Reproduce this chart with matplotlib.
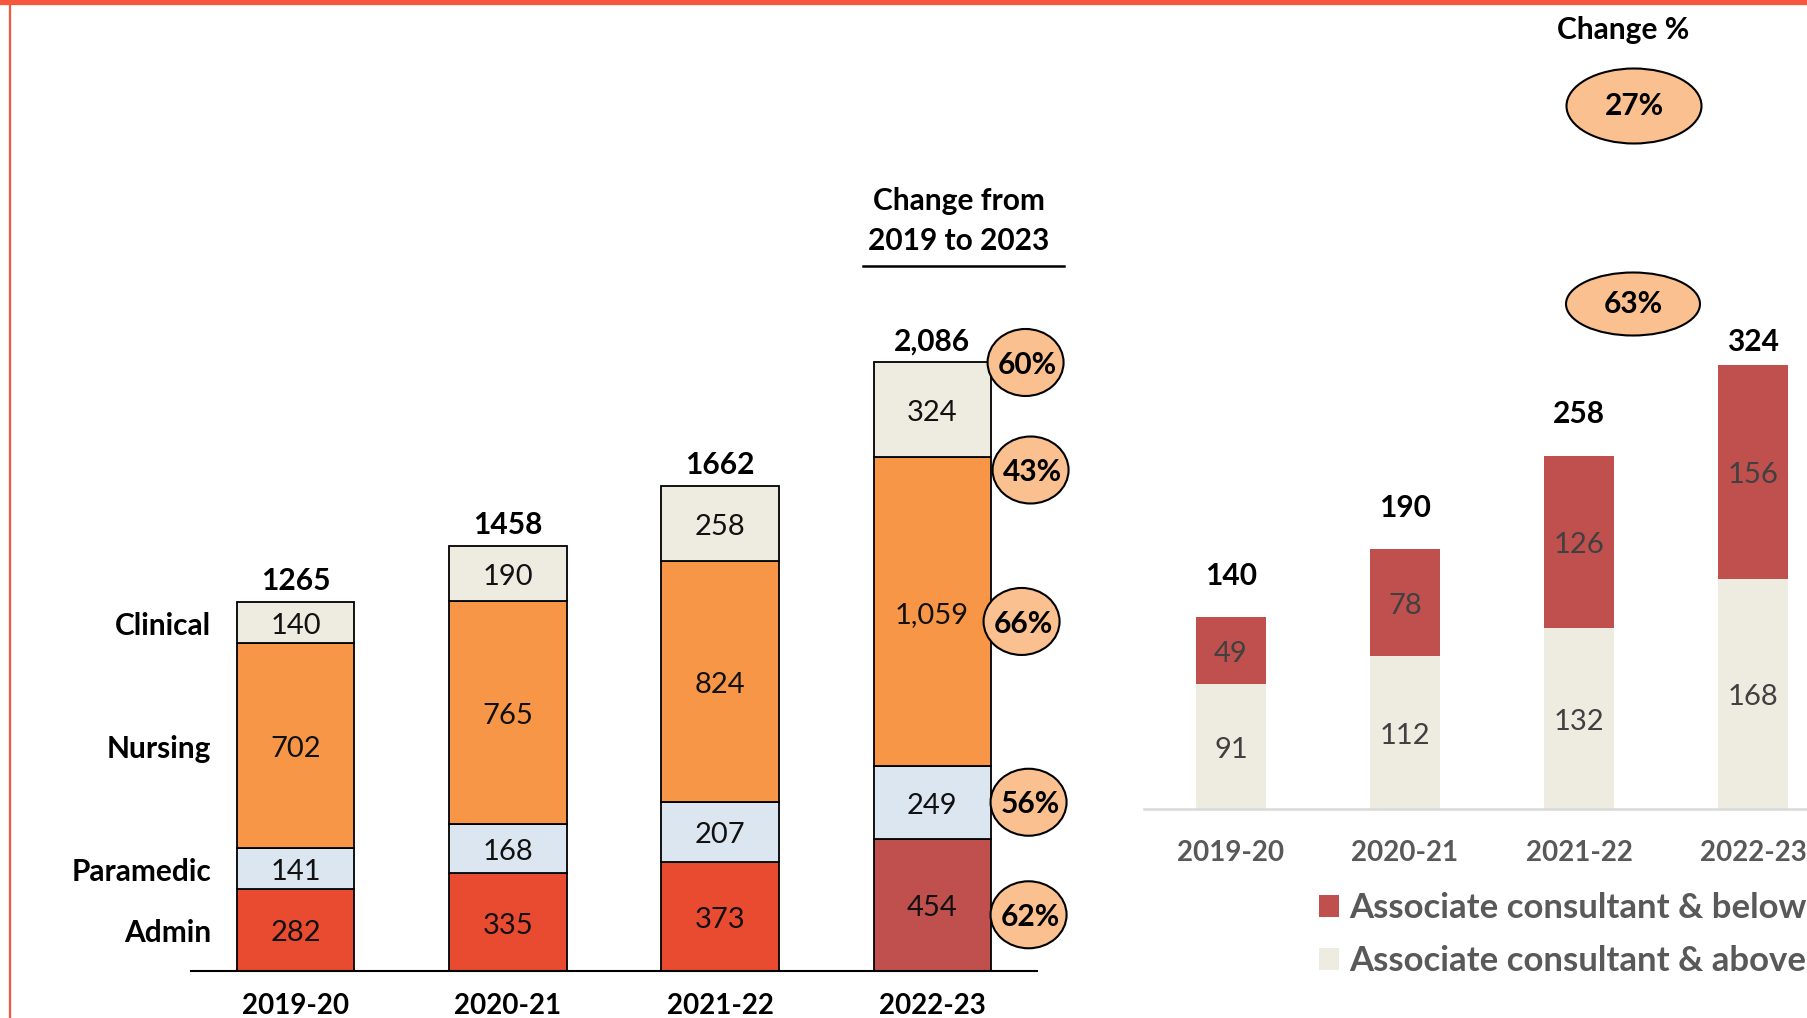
import matplotlib.pyplot as plt
from matplotlib.patches import Ellipse, Patch
from matplotlib.lines import Line2D

plt.rcParams['font.family'] = ['Lato', 'DejaVu Sans']

# ---- data ----
years = ['2019-20', '2020-21', '2021-22', '2022-23']
categories = ['Admin', 'Paramedic', 'Nursing', 'Clinical']
admin = [282, 335, 373, 454]
paramedic = [141, 168, 207, 249]
nursing = [702, 765, 824, 1059]
clinical = [140, 190, 258, 324]
total_labels = ['1265', '1458', '1662', '2,086']
change_pct = ['60%', '43%', '66%', '56%', '62%']

consultant_below = [49, 78, 126, 156]
consultant_above = [91, 112, 132, 168]
consultant_pct = ['27%', '63%']
legend_labels = ['Associate consultant & below', 'Associate consultant & above']

# ---- colours ----
C_ADMIN = '#E94B30'
C_ADMIN_LAST = '#C0504D'
C_PARA = '#DCE6F1'
C_NURS = '#F79646'
C_CLIN = '#EEECE1'
C_BUBBLE = '#FAC090'
C_BORDER = '#F4573E'
C_GREY = '#595959'

FS = 21        # regular text size
FSB = 21.5     # bold label size

W, H = 1807, 1018
fig = plt.figure(figsize=(W / 100, H / 100), dpi=100)


def fig_xy(x, y):
    # pixel position (from top-left) -> figure fraction
    return x / W, 1 - y / H


# frame lines along the top and left edge
fig.add_artist(Line2D([0, 1], [1 - 2 / H, 1 - 2 / H], color=C_BORDER, lw=3.8))
fig.add_artist(Line2D([10 / W, 10 / W], [0, 1], color=C_BORDER, lw=1.6))

# ---- left chart: stacked headcount by staff group ----
ax1 = fig.add_axes([191 / W, 1 - 971 / H, 846 / W, 771 / H])
x = list(range(len(years)))
bw = 0.552
admin_colors = [C_ADMIN] * (len(years) - 1) + [C_ADMIN_LAST]
series = [admin, paramedic, nursing, clinical]
colors = [admin_colors, C_PARA, C_NURS, C_CLIN]
bottoms = [0] * len(years)
mids = []
for vals, col in zip(series, colors):
    ax1.bar(x, vals, bw, bottom=bottoms, color=col, edgecolor='black', linewidth=1.3, zorder=2)
    mids.append([b + v / 2 for b, v in zip(bottoms, vals)])
    for xi, b, v in zip(x, bottoms, vals):
        ax1.annotate(f'{v:,}' if xi == len(years) - 1 else str(v), (xi, b + v / 2),
                     xytext=(0, -2.5), textcoords='offset points',
                     ha='center', va='center', fontsize=FS, color='#111111', zorder=3)
    bottoms = [b + v for b, v in zip(bottoms, vals)]

for xi, tot, lab in zip(x, bottoms, total_labels):
    ax1.annotate(lab, (xi, tot), xytext=(0, 15), textcoords='offset points',
                 ha='center', va='center', fontsize=FSB, fontweight='bold')

# category names beside the first bar
for cat, m in zip(categories, mids):
    ax1.annotate(cat, (-0.40, m[0]), xytext=(0, -2.5), textcoords='offset points',
                 ha='right', va='center', fontsize=FSB, fontweight='bold')

ax1.set_xlim(-0.495, 3.495)
ax1.set_ylim(0, 2643)
ax1.set_xticks(x)
ax1.set_xticklabels(years, fontsize=20, fontweight='bold')
ax1.tick_params(axis='x', length=0, pad=16)
ax1.set_yticks([])
for s in ['top', 'right', 'left']:
    ax1.spines[s].set_visible(False)
ax1.spines['bottom'].set_linewidth(1.5)
ax1.patch.set_alpha(0)

# change bubbles next to the last bar
last = len(years) - 1
px_x = 846 / 3.99
px_y = 771 / 2643
anchors = [bottoms[last], mids[2][last] + nursing[last] / 2, mids[2][last],
           mids[1][last], mids[0][last]]
dy_px = [0, -13, -10, 0, -10]
dx_px = [35, 40, 31, 38, 38]
for lab, yv, dy, dx in zip(change_pct, anchors, dy_px, dx_px):
    cx = last + bw / 2 + dx / px_x
    cy = yv + dy / px_y
    ax1.add_patch(Ellipse((cx, cy), 76 / px_x, 67 / px_y, facecolor=C_BUBBLE,
                          edgecolor='black', linewidth=1.5, clip_on=False, zorder=4))
    ax1.annotate(lab, (cx, cy), xytext=(1, -1.5), textcoords='offset points',
                 ha='center', va='center', fontsize=FSB, fontweight='bold', zorder=5)

tx, ty = fig_xy(959, 221)
fig.text(tx, ty, 'Change from\n2019 to 2023', ha='center', va='center',
         fontsize=FSB, fontweight='bold', linespacing=1.5)
fig.add_artist(Line2D([863 / W, 1064 / W], [1 - 266 / H, 1 - 266 / H], color='black', lw=1.8))

# ---- right chart: consultants ----
ax2 = fig.add_axes([1144 / W, 1 - 809 / H, 663 / W, 509 / H])
bw2 = 0.402
ax2.bar(x, consultant_above, bw2, color=C_CLIN, zorder=2)
ax2.bar(x, consultant_below, bw2, bottom=consultant_above, color=C_ADMIN_LAST, zorder=2)
for xi, a, b in zip(x, consultant_above, consultant_below):
    ax2.annotate(str(a), (xi, a / 2), xytext=(0, -2.5), textcoords='offset points',
                 ha='center', va='center', fontsize=FS, color='#404040')
    ax2.annotate(str(b), (xi, a + b / 2), xytext=(0, -2.5), textcoords='offset points',
                 ha='center', va='center', fontsize=FS, color='#404040')
top_off = [30, 29, 30, 17]
for xi, a, b, off in zip(x, consultant_above, consultant_below, top_off):
    ax2.annotate(str(a + b), (xi, a + b), xytext=(0, off), textcoords='offset points',
                 ha='center', va='center', fontsize=FSB, fontweight='bold')

ax2.set_xlim(-0.5, 3.31)
ax2.set_ylim(0, 509 / 1.37)
ax2.set_xticks(x)
ax2.set_xticklabels(years, fontsize=20, fontweight='bold', color=C_GREY)
ax2.tick_params(axis='x', length=0, pad=22.5)
ax2.set_yticks([])
for s in ['top', 'right', 'left']:
    ax2.spines[s].set_visible(False)
ax2.spines['bottom'].set_color('#D9D9D9')
ax2.spines['bottom'].set_linewidth(1.8)
ax2.patch.set_alpha(0)

handles = [Patch(facecolor=C_ADMIN_LAST), Patch(facecolor=C_CLIN)]
fig.legend(handles, legend_labels, loc='upper left', bbox_to_anchor=fig_xy(1319, 892),
           frameon=False, prop={'weight': 'bold', 'size': 25},
           labelcolor=C_GREY, handlelength=0.58, handleheight=0.6, handletextpad=0.29,
           labelspacing=0.6, borderpad=0, borderaxespad=0)

fx, fy = fig_xy(1623, 30)
fig.text(fx, fy, 'Change %', ha='center', va='center', fontsize=FSB, fontweight='bold')
for lab, (ex, ey, ew, eh) in zip(consultant_pct, [(1634, 106, 135, 75), (1633, 304, 134, 63)]):
    cx, cy = fig_xy(ex, ey)
    fig.add_artist(Ellipse((cx, cy), ew / W, eh / H, facecolor=C_BUBBLE,
                           edgecolor='black', linewidth=1.5, transform=fig.transFigure))
    fig.text(cx, cy, lab, ha='center', va='center', fontsize=FSB, fontweight='bold')

fig.savefig('out.png', dpi=100)
